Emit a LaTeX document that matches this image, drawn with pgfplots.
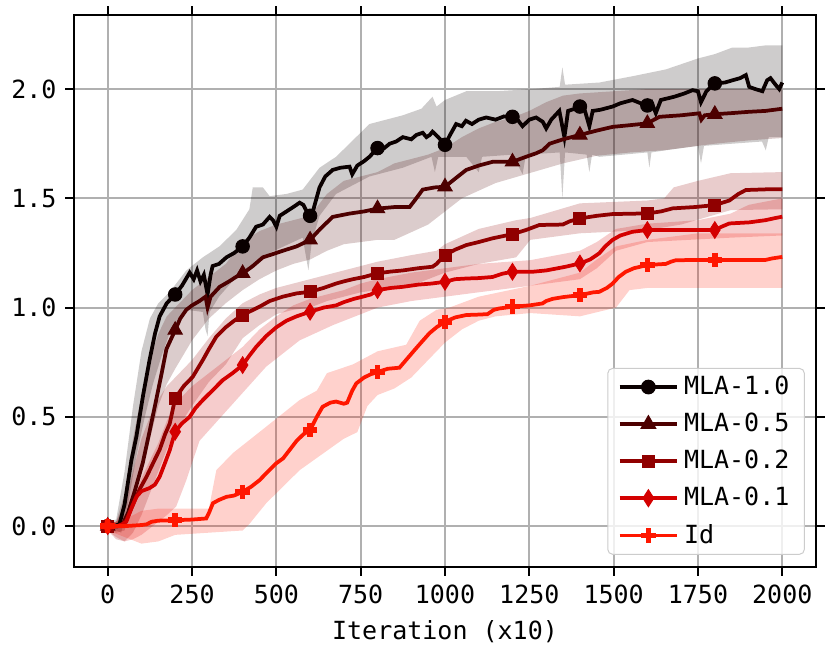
\documentclass[border=0pt]{standalone}
\usepackage{fontspec}
\setmainfont{DejaVu Sans Mono}
\usepackage{pgfplots}
\pgfplotsset{compat=1.18}
\usepgfplotslibrary{fillbetween}
\definecolor{c1}{RGB}{10,0,0}
\definecolor{c2}{RGB}{77,0,0}
\definecolor{c3}{RGB}{144,0,0}
\definecolor{c4}{RGB}{212,0,0}
\definecolor{c5}{RGB}{255,23,0}
\definecolor{gridc}{RGB}{176,176,176}
\begin{document}
\begin{tikzpicture}
\begin{axis}[
  scale only axis, width=296.8pt, height=220.8pt,
  xmin=-100, xmax=2100, ymin=-0.187, ymax=2.339,
  xtick={0,250,...,2000}, ytick={0,0.5,1,1.5,2},
  /pgf/number format/assume math mode=true,
  xticklabel style={/pgf/number format/1000 sep={}},
  yticklabel style={/pgf/number format/.cd, fixed, fixed zerofill, precision=1},
  tick align=outside, major tick length=3.5pt,
  tick style={black, line width=0.8pt},
  axis line style={line width=0.8pt},
  grid=major, grid style={gridc, line width=0.8pt},
  xlabel={Iteration (x10)},
  tick label style={font=\fontsize{10}{12}\selectfont},
  label style={font=\fontsize{10}{12}\selectfont},
  legend style={at={(0.985,0.022)}, anchor=south east, draw=black!20, rounded corners=2pt,
    fill=white, fill opacity=0.8, text opacity=1, font=\fontsize{10}{12}\selectfont,
    row sep=1.9pt, inner xsep=4pt, inner ysep=1pt},
  legend cell align=left,
  legend image code/.code={\draw[line width=1.5pt, draw opacity=1, mark repeat=2,mark phase=2] plot coordinates {(0pt,0pt) (11.5pt,0pt) (23pt,0pt)};},
]
% ---------- bands ----------
% MLA-1.0
\addplot[draw=none, name path=u1, forget plot] coordinates {(0,0.02) (25,0.03) (50,0.25) (75,0.55) (100,0.8) (125,0.95) (150,1.02) (183,1.07) (233,1.17) (282,1.23) (331,1.28) (381,1.355) (420,1.45) (430,1.55) (460,1.55) (480,1.51) (530,1.52) (578,1.54) (628,1.64) (677,1.69) (776,1.84) (875,1.88) (930,1.91) (963,1.965) (975,1.92) (1000,1.95) (1063,1.99) (1150,1.99) (1260,2.0) (1340,2.01) (1348,2.10) (1356,2.02) (1458,2.03) (1560,2.06) (1655,2.09) (1750,2.14) (1800,2.16) (1852,2.19) (1900,2.19) (1951,2.2) (2000,2.2)};
\addplot[draw=none, name path=l1, forget plot] coordinates {(0,-0.01) (25,-0.02) (40,-0.03) (60,0.1) (85,0.32) (110,0.5) (134,0.65) (160,0.78) (183,0.88) (233,0.99) (282,0.98) (290,0.9) (296,0.87) (302,0.98) (330,1.05) (381,1.14) (480,1.25) (578,1.32) (595,1.17) (605,1.3) (628,1.42) (677,1.52) (776,1.6) (875,1.64) (960,1.69) (970,1.62) (980,1.69) (1063,1.69) (1100,1.62) (1110,1.69) (1200,1.70) (1230,1.61) (1240,1.70) (1340,1.71) (1348,1.5) (1356,1.71) (1420,1.70) (1428,1.62) (1436,1.70) (1458,1.69) (1600,1.71) (1606,1.64) (1612,1.71) (1655,1.72) (1750,1.74) (1759,1.66) (1768,1.74) (1852,1.75) (1940,1.76) (1951,1.72) (1960,1.78) (2000,1.78)};
\addplot[fill=c1, fill opacity=0.2, draw=none, forget plot] fill between[of=u1 and l1];
% MLA-0.5
\addplot[draw=none, name path=u2, forget plot] coordinates {(0,0.01) (25,0.02) (50,0.15) (75,0.4) (100,0.6) (125,0.76) (150,0.88) (175,0.96) (200,1.0) (250,1.08) (300,1.14) (350,1.2) (400,1.3) (450,1.35) (500,1.38) (550,1.40) (600,1.42) (650,1.52) (700,1.58) (750,1.6) (800,1.62) (850,1.66) (900,1.68) (950,1.70) (1000,1.73) (1050,1.78) (1100,1.82) (1150,1.85) (1200,1.87) (1250,1.9) (1300,1.94) (1350,1.97) (1400,1.98) (1500,1.99) (1600,2.0) (1700,2.0) (1800,2.0) (1900,2.0) (2000,2.0)};
\addplot[draw=none, name path=l2, forget plot] coordinates {(0,-0.02) (25,-0.03) (50,-0.02) (75,0.1) (100,0.25) (125,0.4) (150,0.55) (175,0.65) (200,0.72) (250,0.85) (300,0.95) (350,1.02) (400,1.08) (450,1.13) (500,1.17) (550,1.20) (600,1.22) (650,1.26) (700,1.29) (750,1.30) (800,1.31) (850,1.31) (950,1.38) (1050,1.50) (1150,1.57) (1250,1.615) (1350,1.66) (1450,1.695) (1550,1.71) (1650,1.72) (1750,1.74) (1800,1.75) (1900,1.765) (2000,1.776)};
\addplot[fill=c2, fill opacity=0.2, draw=none, forget plot] fill between[of=u2 and l2];
% MLA-0.2
\addplot[draw=none, name path=u3, forget plot] coordinates {(0,0.01) (25,0.02) (50,0.1) (75,0.25) (100,0.4) (125,0.5) (150,0.58) (175,0.64) (200,0.68) (250,0.76) (300,0.86) (350,0.95) (400,1.02) (450,1.06) (500,1.09) (550,1.11) (600,1.13) (650,1.15) (700,1.17) (750,1.19) (800,1.21) (900,1.24) (975,1.26) (1000,1.29) (1100,1.36) (1211,1.40) (1253,1.41) (1400,1.477) (1600,1.49) (1650,1.50) (1678,1.55) (1750,1.58) (1847,1.615) (2000,1.62)};
\addplot[draw=none, name path=l3, forget plot] coordinates {(0,-0.02) (25,-0.06) (50,-0.07) (75,-0.03) (100,0.05) (125,0.15) (150,0.25) (175,0.35) (200,0.43) (250,0.55) (300,0.66) (350,0.74) (400,0.86) (450,0.92) (500,0.97) (550,0.99) (600,1.0) (650,1.03) (700,1.05) (750,1.07) (800,1.08) (900,1.10) (1000,1.16) (1100,1.20) (1211,1.23) (1253,1.31) (1400,1.34) (1600,1.355) (1700,1.38) (1847,1.446) (2000,1.45)};
\addplot[fill=c3, fill opacity=0.2, draw=none, forget plot] fill between[of=u3 and l3];
% MLA-0.1
\addplot[draw=none, name path=u4, forget plot] coordinates {(0,0.01) (25,0.02) (50,0.05) (75,0.12) (100,0.22) (125,0.3) (150,0.38) (175,0.48) (200,0.56) (250,0.64) (300,0.70) (350,0.76) (400,0.82) (450,0.90) (500,0.96) (550,1.01) (600,1.04) (650,1.06) (700,1.08) (750,1.11) (800,1.13) (900,1.16) (1000,1.18) (1100,1.20) (1253,1.217) (1400,1.26) (1450,1.30) (1507,1.36) (1600,1.384) (1750,1.40) (1847,1.43) (1900,1.47) (2000,1.50)};
\addplot[draw=none, name path=l4, forget plot] coordinates {(0,-0.02) (25,-0.05) (50,-0.07) (75,-0.06) (100,-0.04) (125,-0.01) (150,0.02) (175,0.05) (203,0.09) (233,0.21) (272,0.39) (371,0.56) (470,0.73) (569,0.85) (668,0.92) (800,1.0) (900,1.03) (1000,1.05) (1100,1.07) (1253,1.10) (1400,1.13) (1450,1.18) (1507,1.26) (1600,1.30) (1847,1.32) (2000,1.33)};
\addplot[fill=c4, fill opacity=0.2, draw=none, forget plot] fill between[of=u4 and l4];
% Id
\addplot[draw=none, name path=u5, forget plot] coordinates {(0,0.01) (50,0.03) (100,0.07) (150,0.08) (300,0.08) (315,0.2) (322,0.256) (371,0.334) (470,0.455) (569,0.577) (620,0.62) (650,0.70) (727,0.74) (800,0.80) (885,0.83) (925,0.94) (975,0.99) (1013,1.0) (1100,1.05) (1253,1.10) (1400,1.16) (1450,1.22) (1507,1.28) (1600,1.31) (1750,1.34) (2000,1.34)};
\addplot[draw=none, name path=l5, forget plot] coordinates {(0,-0.02) (50,-0.05) (100,-0.08) (150,-0.07) (200,-0.04) (300,-0.03) (400,-0.02) (420,0.01) (470,0.105) (569,0.256) (700,0.40) (740,0.43) (770,0.55) (800,0.6) (850,0.63) (900,0.68) (950,0.76) (1000,0.84) (1050,0.9) (1100,0.94) (1150,0.96) (1253,0.975) (1400,0.96) (1507,1.0) (1547,1.08) (1600,1.09) (2000,1.09)};
\addplot[fill=c5, fill opacity=0.2, draw=none, forget plot] fill between[of=u5 and l5];
% ---------- lines ----------
\addplot[c1, line width=1.5pt, forget plot] coordinates {(0,0) (20,0.0) (35,0.01) (50,0.1) (70,0.3) (85,0.41) (105,0.6) (124,0.76) (140,0.88) (154,0.96) (175,1.02) (200,1.06) (220,1.10) (243,1.16) (255,1.13) (265,1.17) (275,1.12) (285,1.15) (296,1.06) (305,1.15) (311,1.19) (330,1.20) (352,1.23) (375,1.25) (400,1.28) (420,1.32) (440,1.37) (460,1.38) (480,1.415) (490,1.40) (500,1.37) (510,1.42) (530,1.44) (550,1.46) (569,1.48) (580,1.47) (590,1.44) (600,1.42) (610,1.45) (628,1.55) (645,1.60) (667,1.63) (690,1.64) (717,1.645) (725,1.61) (740,1.65) (760,1.67) (776,1.69) (800,1.73) (820,1.73) (836,1.75) (855,1.76) (875,1.78) (900,1.77) (915,1.79) (934,1.80) (945,1.78) (955,1.79) (963,1.805) (980,1.78) (1000,1.745) (1015,1.79) (1033,1.84) (1050,1.83) (1062,1.855) (1080,1.84) (1100,1.86) (1122,1.87) (1150,1.86) (1175,1.875) (1200,1.873) (1215,1.86) (1230,1.83) (1250,1.86) (1270,1.87) (1290,1.85) (1300,1.82) (1315,1.86) (1339,1.90) (1354,1.78) (1365,1.90) (1385,1.91) (1400,1.92) (1415,1.90) (1428,1.83) (1438,1.90) (1460,1.905) (1497,1.92) (1520,1.935) (1556,1.95) (1580,1.935) (1600,1.925) (1612,1.94) (1625,1.89) (1640,1.95) (1680,1.965) (1710,1.98) (1734,1.995) (1750,1.99) (1759,1.94) (1775,1.99) (1800,2.026) (1830,2.03) (1852,2.04) (1875,2.05) (1892,2.064) (1902,2.01) (1920,2.0) (1941,1.99) (1955,2.04) (1965,2.05) (1980,2.02) (1991,2.0) (2000,2.03)};
\addplot[c2, line width=1.5pt, forget plot] coordinates {(0,0) (30,0.0) (45,0.01) (60,0.06) (80,0.16) (104,0.29) (125,0.44) (144,0.58) (160,0.70) (174,0.81) (200,0.897) (215,0.95) (233,0.99) (250,1.01) (272,1.03) (290,1.05) (296,1.0) (305,1.05) (332,1.095) (360,1.12) (380,1.14) (401,1.157) (430,1.19) (460,1.23) (490,1.245) (519,1.26) (560,1.28) (600,1.31) (630,1.36) (667,1.415) (716,1.43) (760,1.44) (800,1.453) (850,1.46) (895,1.46) (910,1.49) (934,1.54) (970,1.55) (1000,1.553) (1030,1.59) (1063,1.63) (1100,1.65) (1141,1.667) (1200,1.667) (1240,1.69) (1270,1.706) (1290,1.72) (1310,1.75) (1350,1.77) (1400,1.79) (1450,1.81) (1497,1.827) (1550,1.835) (1600,1.843) (1620,1.86) (1636,1.873) (1700,1.88) (1754,1.889) (1760,1.86) (1770,1.88) (1800,1.885) (1850,1.89) (1902,1.896) (1950,1.90) (2000,1.91)};
\addplot[c3, line width=1.5pt, forget plot] coordinates {(0,0) (30,0.0) (45,0.01) (55,0.027) (75,0.1) (95,0.17) (115,0.226) (135,0.29) (154,0.35) (170,0.42) (184,0.47) (200,0.585) (225,0.64) (252,0.683) (282,0.76) (300,0.81) (322,0.867) (350,0.91) (375,0.94) (400,0.966) (425,0.985) (450,1.004) (480,1.03) (519,1.05) (560,1.065) (600,1.072) (640,1.09) (677,1.11) (700,1.12) (727,1.13) (760,1.14) (800,1.157) (840,1.165) (875,1.17) (920,1.18) (963,1.187) (975,1.20) (990,1.225) (1000,1.24) (1030,1.265) (1063,1.286) (1100,1.30) (1141,1.317) (1200,1.336) (1240,1.355) (1280,1.378) (1349,1.38) (1370,1.395) (1400,1.408) (1450,1.42) (1497,1.428) (1600,1.431) (1640,1.44) (1675,1.454) (1740,1.46) (1800,1.469) (1843,1.49) (1870,1.52) (1892,1.538) (1950,1.541) (2000,1.542)};
\addplot[c4, line width=1.5pt, forget plot] coordinates {(0,0) (30,0.0) (45,0.01) (55,0.02) (70,0.08) (85,0.134) (100,0.16) (124,0.174) (140,0.19) (154,0.226) (170,0.29) (184,0.348) (200,0.432) (220,0.47) (243,0.50) (260,0.54) (282,0.577) (310,0.62) (341,0.668) (370,0.70) (400,0.737) (420,0.78) (440,0.82) (470,0.87) (500,0.91) (530,0.94) (560,0.96) (600,0.981) (640,1.0) (677,1.01) (700,1.025) (730,1.04) (756,1.05) (780,1.06) (800,1.08) (840,1.09) (875,1.095) (920,1.105) (960,1.11) (1000,1.118) (1030,1.13) (1063,1.133) (1100,1.135) (1141,1.14) (1170,1.155) (1200,1.164) (1260,1.164) (1300,1.17) (1358,1.187) (1400,1.202) (1430,1.22) (1457,1.248) (1475,1.28) (1497,1.31) (1520,1.33) (1556,1.347) (1600,1.355) (1754,1.355) (1800,1.355) (1820,1.37) (1843,1.385) (1902,1.39) (1950,1.40) (1980,1.41) (2000,1.416)};
\addplot[c5, line width=1.5pt, forget plot] coordinates {(0,0) (50,0.0) (100,0.005) (115,0.008) (130,0.02) (150,0.025) (200,0.027) (250,0.03) (292,0.035) (300,0.06) (312,0.105) (330,0.12) (352,0.134) (375,0.14) (400,0.157) (425,0.18) (450,0.21) (475,0.25) (500,0.288) (520,0.31) (539,0.348) (560,0.39) (580,0.42) (600,0.44) (620,0.5) (637,0.546) (660,0.565) (677,0.57) (700,0.56) (710,0.565) (725,0.62) (737,0.653) (760,0.68) (780,0.695) (800,0.705) (830,0.72) (865,0.725) (890,0.77) (915,0.815) (935,0.85) (954,0.883) (975,0.91) (1000,0.935) (1030,0.955) (1063,0.966) (1100,0.968) (1126,0.97) (1145,0.99) (1161,0.996) (1200,1.004) (1250,1.01) (1289,1.019) (1300,1.03) (1319,1.04) (1350,1.048) (1400,1.057) (1440,1.07) (1457,1.072) (1480,1.09) (1497,1.11) (1515,1.14) (1536,1.164) (1560,1.18) (1600,1.195) (1655,1.20) (1670,1.21) (1685,1.217) (1800,1.218) (1950,1.218) (1970,1.225) (2000,1.232)};
% ---------- markers ----------
\addplot[only marks, mark=*, mark size=2.7pt, c1, forget plot] coordinates {(0,0) (200,1.06) (400,1.28) (600,1.42) (800,1.73) (1000,1.745) (1200,1.873) (1400,1.92) (1600,1.925) (1800,2.026)};
\addplot[only marks, mark=triangle*, mark size=3.3pt, c2, forget plot] coordinates {(0,0) (200,0.897) (400,1.157) (600,1.31) (800,1.453) (1000,1.553) (1200,1.667) (1400,1.79) (1600,1.843) (1800,1.885)};
\addplot[only marks, mark=square*, mark size=2.4pt, c3, forget plot] coordinates {(0,0) (200,0.585) (400,0.966) (600,1.072) (800,1.157) (1000,1.24) (1200,1.336) (1400,1.408) (1600,1.431) (1800,1.469)};
\addplot[only marks, mark=diamond*, mark size=3.3pt, mark options={xscale=0.85}, c4, forget plot] coordinates {(0,0) (200,0.432) (400,0.737) (600,0.981) (800,1.08) (1000,1.118) (1200,1.164) (1400,1.202) (1600,1.355) (1800,1.355)};
\addplot[only marks, mark=+, mark size=2.9pt, mark options={line width=2.2pt}, c5, forget plot] coordinates {(0,0) (200,0.027) (400,0.157) (600,0.44) (800,0.705) (1000,0.935) (1200,1.004) (1400,1.057) (1600,1.195) (1800,1.218)};
% ---------- legend ----------
\addlegendimage{c1, mark=*, mark size=2.7pt, mark options={solid, line width=0.5pt, fill opacity=1, draw opacity=1}}
\addlegendentry{MLA-1.0}
\addlegendimage{c2, mark=triangle*, mark size=3.3pt, mark options={solid, line width=0.5pt, fill opacity=1, draw opacity=1}}
\addlegendentry{MLA-0.5}
\addlegendimage{c3, mark=square*, mark size=2.4pt, mark options={solid, line width=0.5pt, fill opacity=1, draw opacity=1}}
\addlegendentry{MLA-0.2}
\addlegendimage{c4, mark=diamond*, mark size=3.3pt, mark options={solid, line width=0.5pt, xscale=0.85, fill opacity=1, draw opacity=1}}
\addlegendentry{MLA-0.1}
\addlegendimage{c5, mark=+, mark size=2.9pt, mark options={solid, line width=2.2pt, fill opacity=1, draw opacity=1}}
\addlegendentry{Id}
\end{axis}
\pgfresetboundingbox
\path[use as bounding box] ([shift={(-29.6pt,-34.8pt)}]current axis.south west) rectangle ([shift={(6pt,6pt)}]current axis.north east);
\end{tikzpicture}
\end{document}
